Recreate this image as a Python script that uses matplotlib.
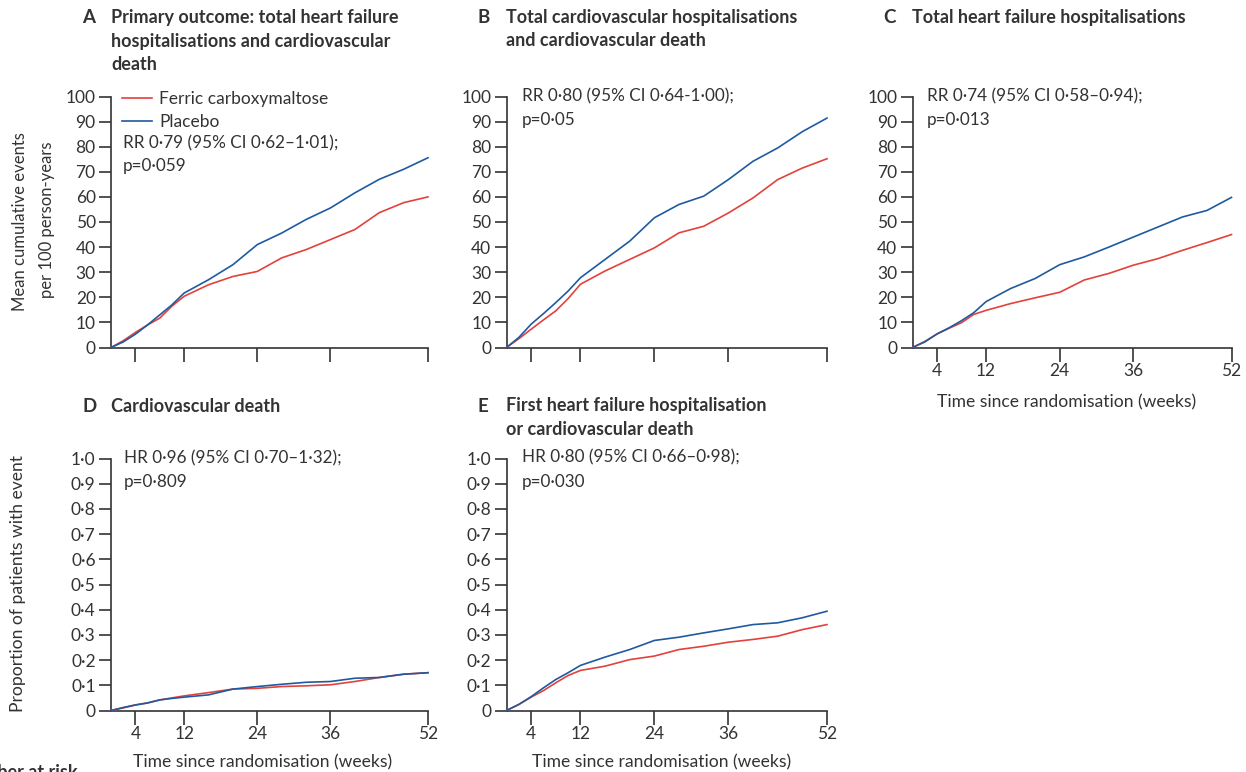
import matplotlib
matplotlib.use("Agg")
import matplotlib.pyplot as plt

plt.rcParams['font.family'] = ['Lato', 'DejaVu Sans']

W, H = 1246, 772
RED = '#e2423b'
BLUE = '#1f5aa0'
INK = '#333333'

# ---- data ---------------------------------------------------------------
weeks = [0, 2, 4, 6, 8, 10, 12, 16, 20, 24, 28, 32, 36, 40, 44, 48, 52]

a_fcm = [0, 2.7, 6.0, 9.0, 11.7, 16.5, 20.4, 25.0, 28.3, 30.3, 35.7, 39.0, 43.0, 47.0, 53.7, 57.7, 60.0]
a_pbo = [0, 2.2, 5.3, 9.0, 13.0, 17.0, 21.7, 27.0, 33.0, 41.0, 45.6, 51.0, 55.6, 61.6, 67.0, 71.0, 75.6]

b_fcm = [0, 3.5, 7.3, 11.0, 14.6, 19.5, 25.2, 30.5, 35.1, 39.7, 45.7, 48.3, 53.6, 59.6, 66.9, 71.5, 75.2]
b_pbo = [0, 4.0, 9.3, 13.5, 17.9, 22.5, 27.8, 35.1, 42.4, 51.7, 57.0, 60.3, 66.9, 74.2, 79.5, 86.0, 91.4]

c_fcm = [0, 2.4, 5.4, 7.7, 9.9, 13.2, 14.8, 17.5, 19.8, 22.0, 26.9, 29.5, 32.8, 35.4, 38.7, 41.8, 45.0]
c_pbo = [0, 2.2, 5.4, 7.9, 10.7, 13.9, 18.3, 23.5, 27.5, 33.0, 36.1, 40.0, 44.0, 48.0, 52.0, 54.6, 59.8]

d_fcm = [0, 0.010, 0.022, 0.030, 0.042, 0.050, 0.058, 0.071, 0.085, 0.088, 0.095, 0.098, 0.102, 0.115, 0.131, 0.144, 0.150]
d_pbo = [0, 0.012, 0.022, 0.030, 0.042, 0.048, 0.053, 0.062, 0.085, 0.095, 0.104, 0.112, 0.115, 0.128, 0.131, 0.144, 0.150]

e_fcm = [0, 0.024, 0.053, 0.079, 0.110, 0.139, 0.159, 0.176, 0.202, 0.216, 0.242, 0.255, 0.271, 0.282, 0.295, 0.321, 0.341]
e_pbo = [0, 0.024, 0.055, 0.090, 0.123, 0.150, 0.179, 0.212, 0.242, 0.278, 0.291, 0.308, 0.324, 0.341, 0.348, 0.368, 0.394]

series_labels = ['Ferric carboxymaltose', 'Placebo']

x_ticks = [4, 12, 24, 36, 52]
rate_ticks = list(range(0, 101, 10))
rate_ticklabels = [str(v) for v in rate_ticks]
prop_ticks = [i / 10 for i in range(11)]
prop_ticklabels = ['0'] + ['0\u00b7%d' % i for i in range(1, 10)] + ['1\u00b70']

panels = [
    dict(letter='A', title=['Primary outcome: total heart failure',
                            'hospitalisations and cardiovascular', 'death'],
         fcm=a_fcm, pbo=a_pbo, kind='rate',
         stat=['RR 0\u00b779 (95% CI 0\u00b762\u20131\u00b701);', 'p=0\u00b7059']),
    dict(letter='B', title=['Total cardiovascular hospitalisations',
                            'and cardiovascular death'],
         fcm=b_fcm, pbo=b_pbo, kind='rate',
         stat=['RR 0\u00b780 (95% CI 0\u00b764-1\u00b700);', 'p=0\u00b705']),
    dict(letter='C', title=['Total heart failure hospitalisations'],
         fcm=c_fcm, pbo=c_pbo, kind='rate',
         stat=['RR 0\u00b774 (95% CI 0\u00b758\u20130\u00b794);', 'p=0\u00b7013']),
    dict(letter='D', title=['Cardiovascular death'],
         fcm=d_fcm, pbo=d_pbo, kind='prop',
         stat=['HR 0\u00b796 (95% CI 0\u00b770\u20131\u00b732);', 'p=0\u00b7809']),
    dict(letter='E', title=['First heart failure hospitalisation',
                            'or cardiovascular death'],
         fcm=e_fcm, pbo=e_pbo, kind='prop',
         stat=['HR 0\u00b780 (95% CI 0\u00b766\u20130\u00b798);', 'p=0\u00b7030']),
]

# ---- layout (pixels) ------------------------------------------------------
# (left, right, top, bottom) of each plotting area
boxes = [
    (111, 428, 96.5, 347.5),
    (506.5, 827, 96.5, 347.5),
    (912.5, 1231.5, 96.5, 347.5),
    (111, 428, 458.5, 710.5),
    (506.5, 827, 458.5, 710.5),
]
title_y = [17.5, 17.5, 17.5, 406, 406]
stat_pos = [(123, 143, 23.5), (521.5, 96, 24.5), (927, 96, 24.5),
            (124, 458, 24.5), (521.5, 457, 24.5)]

fig = plt.figure(figsize=(W / 100, H / 100), dpi=100)


def fx(px):
    return px / W


def fy(py):
    return 1 - py / H


axes = []
for p, (l, r, t, b), ty, (sx, sy, sdy) in zip(panels, boxes, title_y, stat_pos):
    ax = fig.add_axes([fx(l), fy(b), (r - l) / W, (b - t) / H])
    axes.append(ax)
    ax.plot(weeks, p['fcm'], color=RED, lw=1.2, label=series_labels[0], clip_on=False, zorder=3)
    ax.plot(weeks, p['pbo'], color=BLUE, lw=1.2, label=series_labels[1], clip_on=False, zorder=3)
    ax.set_xlim(0, 52)
    if p['kind'] == 'rate':
        ax.set_ylim(0, 100)
        ax.set_yticks(rate_ticks)
        ax.set_yticklabels(rate_ticklabels)
    else:
        ax.set_ylim(0, 1.0)
        ax.set_yticks(prop_ticks)
        ax.set_yticklabels(prop_ticklabels)
    ax.set_xticks(x_ticks)
    if p['letter'] in ('A', 'B'):
        ax.set_xticklabels([])
    for s in ('top', 'right'):
        ax.spines[s].set_visible(False)
    for s in ('left', 'bottom'):
        ax.spines[s].set_linewidth(1.2)
        ax.spines[s].set_color(INK)
    ax.tick_params(axis='y', length=9, width=1.2, color=INK, labelsize=12.5,
                   labelcolor=INK, pad=2)
    ax.tick_params(axis='x', length=10, width=1.2, color=INK, labelsize=12.5,
                   labelcolor=INK, pad=1)
    ax.patch.set_alpha(0)

    # panel letter and title
    fig.text(fx(l - 29), fy(ty), p['letter'], fontsize=13.5, fontweight='bold',
             color=INK, ha='left', va='center')
    for i, line in enumerate(p['title']):
        fig.text(fx(l), fy(ty + i * 23.5), line, fontsize=13, fontweight='bold',
                 color=INK, ha='left', va='center')

    # statistics
    for i, line in enumerate(p['stat']):
        fig.text(fx(sx), fy(sy + i * sdy), line, fontsize=12.3, color=INK,
                 ha='left', va='center')

# legend in panel A
axes[0].legend(loc='upper left', bbox_to_anchor=(0.035, 1.02), frameon=False,
               fontsize=12.5, handlelength=1.72, handletextpad=0.4,
               labelspacing=0.38, borderaxespad=0, borderpad=0,
               labelcolor=INK)

# axis titles
fig.text(fx(20), fy(221.5), 'Mean cumulative events', rotation=90, fontsize=12,
         color=INK, ha='center', va='center')
fig.text(fx(47), fy(220), 'per 100 person-years', rotation=90, fontsize=12,
         color=INK, ha='center', va='center')
fig.text(fx(18), fy(583), 'Proportion of patients with event', rotation=90,
         fontsize=12.6, color=INK, ha='center', va='center')
for cx, cy in [(1067, 402), (263, 762), (662, 762)]:
    fig.text(fx(cx), fy(cy), 'Time since randomisation (weeks)', fontsize=12.6,
             color=INK, ha='center', va='center')

fig.text(fx(78), fy(764), 'Number at risk', fontsize=13, fontweight='bold',
         color=INK, ha='right', va='top')

fig.savefig('out.png', dpi=100, facecolor='white')
